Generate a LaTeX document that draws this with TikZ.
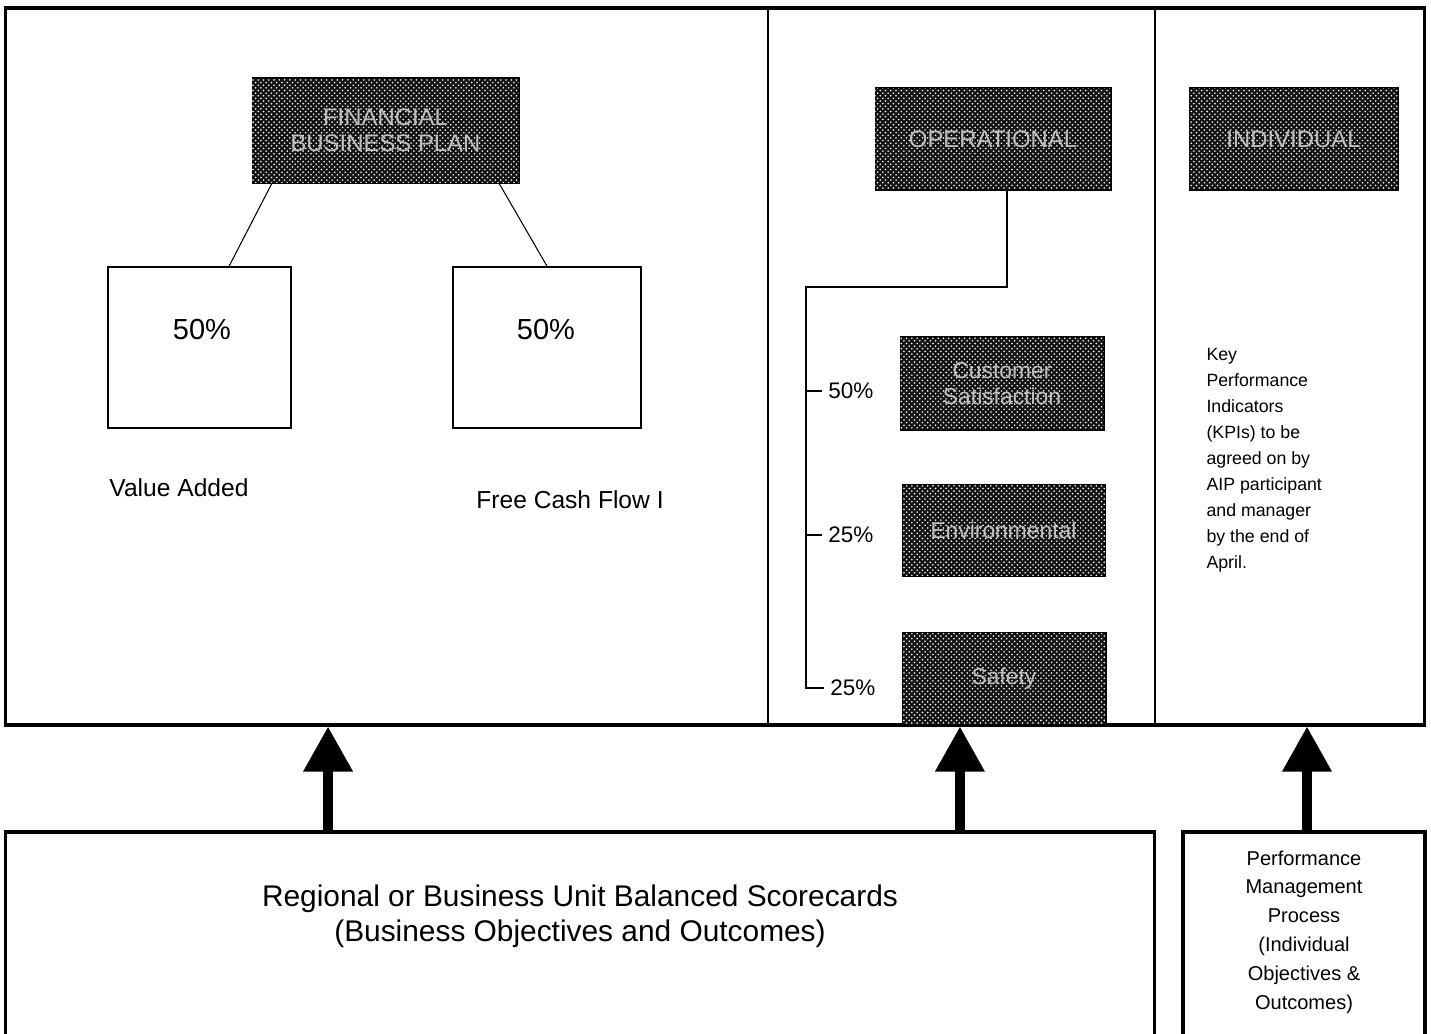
\documentclass[tikz,border=0pt]{standalone}
\usepackage{fontspec}
\setmainfont{Liberation Sans}
\usetikzlibrary{arrows.meta, patterns}

\begin{document}
\begin{tikzpicture}[x=0.02cm, y=-0.02cm, semithick,
    darkbox/.style={draw=black, fill=black!92, text=black!25, inner sep=0pt,
        postaction={pattern=crosshatch dots, pattern color=white!45}},
    plainbox/.style={draw=black, line width=1pt, inner sep=0pt},
    frame/.style={draw=black, line width=1.8pt, inner sep=0pt},
    bigarrow/.style={line width=0.2cm, -{Triangle[width=0.94cm, length=0.9cm]}}]
                \useasboundingbox (0, 0) rectangle (1431, 1034);
                % top frame and its columns
                \node[frame, minimum width=28.4cm, minimum height=14.34cm] (frame) at (715, 366.5) {};
                \draw[line width=1pt] (768, 8) -- (768, 725);
                \draw[line width=1pt] (1155, 8) -- (1155, 725);
                % financial
                \node[darkbox, minimum width=5.34cm, minimum height=2.1cm, font=\fontsize{13.6}{15}\selectfont, align=center] (fin) at (385.5, 130.5) {FINANCIAL\\BUSINESS PLAN};
                \node[plainbox, minimum width=3.66cm, minimum height=3.22cm] (va) at (199.5, 347.5) {};
                \node[plainbox, minimum width=3.76cm, minimum height=3.22cm] (fcf) at (547, 347.5) {};
                \node[font=\fontsize{16.5}{18}\selectfont] (vapct) at (202, 330) {50\%};
                \node[font=\fontsize{16.5}{18}\selectfont] (fcfpct) at (546, 330) {50\%};
                \node[font=\fontsize{14}{16}\selectfont] (valabel) at (179, 488) {Value Added};
                \node[font=\fontsize{14}{16}\selectfont] (fcflabel) at (570, 500) {Free Cash Flow I};
                \draw (fin.205) -- (va.70);
                \draw (fin.-25) -- (fcf.north);
                % operational
                \node[darkbox, minimum width=4.72cm, minimum height=2.04cm, font=\fontsize{13.6}{15}\selectfont] (op) at (993, 139) {OPERATIONAL};
                \node[darkbox, minimum width=4.08cm, minimum height=1.86cm, font=\fontsize{13}{15}\selectfont, align=center] (cust) at (1002, 383.5) {Customer\\Satisfaction};
                \node[darkbox, minimum width=4.06cm, minimum height=1.82cm, font=\fontsize{13}{15}\selectfont] (env) at (1003.5, 530.5) {Environmental};
                \node[darkbox, minimum width=4.08cm, minimum height=1.84cm, font=\fontsize{13}{15}\selectfont] (saf) at (1004, 679) {Safety};
                \node[font=\fontsize{12.8}{15}\selectfont, anchor=west] (p50) at (822, 391) {50\%};
                \node[font=\fontsize{12.8}{15}\selectfont, anchor=west] (p25a) at (822, 535) {25\%};
                \node[font=\fontsize{12.8}{15}\selectfont, anchor=west] (p25b) at (824, 688) {25\%};
                \coordinate (spinetop) at (806, 287);
                \coordinate (spinebot) at (806, 688);
                \draw ([xshift=0.28cm]op.south) |- (spinetop) -- (spinebot) -- (p25b.west);
                \draw (spinetop |- p50.west) -- (p50.west);
                \draw (spinetop |- p25a.west) -- (p25a.west);
                % individual
                \node[darkbox, minimum width=4.18cm, minimum height=2.04cm, font=\fontsize{13.6}{15}\selectfont] (ind) at (1293.5, 139) {INDIVIDUAL};
                \node[font=\fontsize{10.1}{14.8}\selectfont, align=left, anchor=north west, inner sep=0pt] (kpi) at (1206, 348) {Key\\Performance\\Indicators\\(KPIs) to be\\agreed on by\\AIP participant\\and manager\\by the end of\\April.};
                % bottom boxes, running off the lower edge
                \node[frame, minimum width=23cm, minimum height=4.3cm] (bsc) at (580, 939.5) {};
                \node[frame, minimum width=4.84cm, minimum height=4.3cm] (pmp) at (1304, 939.5) {};
                \node[font=\fontsize{17}{19.8}\selectfont, align=center] (bsctext) at (580, 916) {Regional or Business Unit Balanced Scorecards\\(Business Objectives and Outcomes)};
                \node[font=\fontsize{11.4}{16.4}\selectfont, align=center] (pmptext) at (1304, 932) {Performance\\Management\\Process\\(Individual\\Objectives \&\\Outcomes)};
                \draw[bigarrow] ([xshift=-5.04cm]bsc.north) -- ([xshift=-5.04cm]bsc.north |- frame.south);
                \draw[bigarrow] ([xshift=7.6cm]bsc.north) -- ([xshift=7.6cm]bsc.north |- frame.south);
                \draw[bigarrow] ([xshift=0.06cm]pmp.north) -- ([xshift=0.06cm]pmp.north |- frame.south);
            \end{tikzpicture}
\end{document}
